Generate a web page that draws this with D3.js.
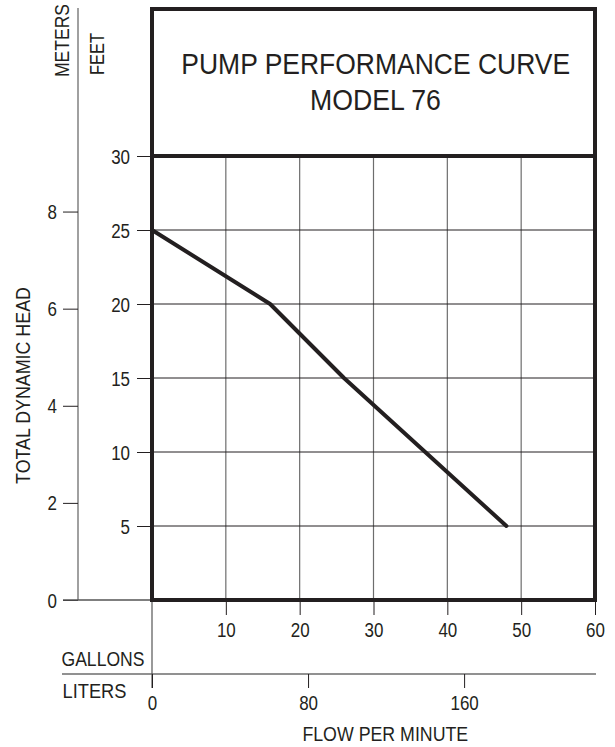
<!DOCTYPE html>
<html>
<head>
<meta charset="utf-8">
<script src="https://cdn.jsdelivr.net/npm/d3@7/dist/d3.min.js"></script>
<style>
  html, body { margin: 0; padding: 0; background: #fff; }
  svg { display: block; }
  text { font-family: "Liberation Sans", Arial, sans-serif; fill: #231f20; }
</style>
</head>
<body>
<svg id="chart" width="615" height="747"></svg>
<script>
// ---- data ----
const gallonTicks = [10, 20, 30, 40, 50, 60];
const literTicks = [0, 80, 160];
const feetTicks = [5, 10, 15, 20, 25, 30];
const meterTicks = [0, 2, 4, 6, 8];
const curveGallons = [0, 16, 26, 48];
const curveFeet = [25, 20, 15, 5];
const titleLines = ["PUMP PERFORMANCE CURVE", "MODEL 76"];
const LITERS_PER_GALLON = 3.785;
const FEET_PER_METER = 3.2808;

// ---- layout ----
const svg = d3.select("#chart");
const ink = "#231f20";
const frame = { left: 152, right: 595, top: 9, bottom: 600, headBottom: 156 };
const SX = 0.87; // horizontal condensation of the typeface

const x = d3.scaleLinear().domain([0, 60]).range([frame.left, frame.right]);
const xL = d3.scaleLinear().domain([0, 60 * LITERS_PER_GALLON]).range([frame.left, frame.right]);
const y = d3.scaleLinear().domain([0, 30]).range([frame.bottom, frame.headBottom]);
const yM = d3.scaleLinear().domain([0, 30 / FEET_PER_METER]).range([frame.bottom, frame.headBottom]);

// ---- grid ----
const grid = svg.append("g");
grid.selectAll("line.v").data(gallonTicks.filter(d => d < 60)).join("line")
  .attr("x1", d => x(d)).attr("x2", d => x(d))
  .attr("y1", frame.headBottom).attr("y2", frame.bottom)
  .attr("stroke", "#6d6d6d").attr("stroke-width", 1.2);
grid.selectAll("line.h").data(feetTicks).join("line")
  .attr("x1", frame.left).attr("x2", frame.right)
  .attr("y1", d => y(d)).attr("y2", d => y(d))
  .attr("stroke", ink).attr("stroke-width", 1);

function styleTicks(g, textFn) {
  g.select(".domain").remove();
  g.selectAll(".tick line").attr("stroke", ink).attr("stroke-width", 1);
  g.selectAll(".tick text").attr("font-size", 19.5).attr("fill", ink)
    .attr("font-family", "Liberation Sans, Arial, sans-serif");
  textFn(g.selectAll(".tick text"));
}

// ---- feet axis ----
svg.append("g").attr("transform", `translate(${frame.left},0)`)
  .call(d3.axisLeft(y).tickValues(feetTicks).tickSize(15).tickPadding(7))
  .call(g => styleTicks(g, t => t.attr("x", -22 / SX).attr("dy", "0.36em")
    .attr("transform", `scale(${SX},1)`)));

// ---- meters axis ----
const mx = 78;
svg.append("line").attr("x1", mx).attr("x2", mx).attr("y1", 8).attr("y2", frame.bottom)
  .attr("stroke", "#6d6d6d").attr("stroke-width", 1.3);
svg.append("g").attr("transform", `translate(${mx},0)`)
  .call(d3.axisLeft(yM).tickValues(meterTicks).tickSize(15).tickPadding(6))
  .call(g => styleTicks(g, t => t.attr("x", -21 / SX).attr("dy", "0.36em")
    .attr("transform", `scale(${SX},1)`)));
svg.append("line").attr("x1", 63).attr("x2", frame.left)
  .attr("y1", yM(0)).attr("y2", yM(0)).attr("stroke", "#555").attr("stroke-width", 1.3);

// ---- gallons axis ----
svg.append("g").attr("transform", `translate(0,${frame.bottom})`)
  .call(d3.axisBottom(x).tickValues(gallonTicks).tickSize(15))
  .call(g => styleTicks(g, t => t.attr("y", 37).attr("dy", 0)
    .attr("transform", `scale(${SX},1)`)));

// ---- liters axis ----
const ly = 674;
svg.append("line").attr("x1", 62).attr("x2", frame.right + 1).attr("y1", ly).attr("y2", ly)
  .attr("stroke", "#6d6d6d").attr("stroke-width", 1.5);
svg.append("line").attr("x1", xL(0)).attr("x2", xL(0)).attr("y1", frame.bottom).attr("y2", ly + 14)
  .attr("stroke", "#555").attr("stroke-width", 1.2);
svg.append("g").attr("transform", `translate(0,${ly})`)
  .call(d3.axisBottom(xL).tickValues(literTicks).tickSize(14))
  .call(g => styleTicks(g, t => t.attr("y", 36.5).attr("dy", 0)
    .attr("transform", `scale(${SX},1)`)));

// ---- frame ----
svg.append("rect")
  .attr("x", frame.left).attr("y", frame.top)
  .attr("width", frame.right - frame.left).attr("height", frame.bottom - frame.top)
  .attr("fill", "none").attr("stroke", ink).attr("stroke-width", 4);
svg.append("line").attr("x1", frame.left).attr("x2", frame.right)
  .attr("y1", frame.headBottom).attr("y2", frame.headBottom)
  .attr("stroke", ink).attr("stroke-width", 4);

// ---- curve ----
const pts = curveGallons.map((g, i) => [g, curveFeet[i]]);
svg.append("path").datum(pts)
  .attr("d", d3.line().x(d => x(d[0])).y(d => y(d[1])))
  .attr("fill", "none").attr("stroke", ink).attr("stroke-width", 4)
  .attr("stroke-linejoin", "round").attr("stroke-linecap", "round");

// ---- labels (condensed by scaling to the measured width) ----
function label(txt, opts) {
  const t = svg.append("text").text(txt)
    .attr("font-size", opts.size)
    .attr("text-anchor", opts.anchor || "start");
  const natural = t.node().getComputedTextLength();
  const s = opts.len / natural;
  t.attr("transform", `translate(${opts.x},${opts.y})` +
    (opts.rot ? ` rotate(${opts.rot})` : "") + ` scale(${s},1)`);
  return t;
}
label(titleLines[0], { x: 375.7, y: 74, size: 30, anchor: "middle", len: 389 });
label(titleLines[1], { x: 375.5, y: 110, size: 30, anchor: "middle", len: 131 });
label("METERS", { x: 69, y: 77, size: 21, rot: -90, len: 73 });
label("FEET", { x: 104, y: 75, size: 20.5, rot: -90, len: 42 });
label("TOTAL DYNAMIC HEAD", { x: 30, y: 385.5, size: 21, rot: -90, anchor: "middle", len: 197 });
label("GALLONS", { x: 61.5, y: 666, size: 20, len: 83 });
label("LITERS", { x: 62.5, y: 698, size: 20, len: 64 });
label("FLOW PER MINUTE", { x: 385.3, y: 741, size: 20, anchor: "middle", len: 166 });
</script>
</body>
</html>
